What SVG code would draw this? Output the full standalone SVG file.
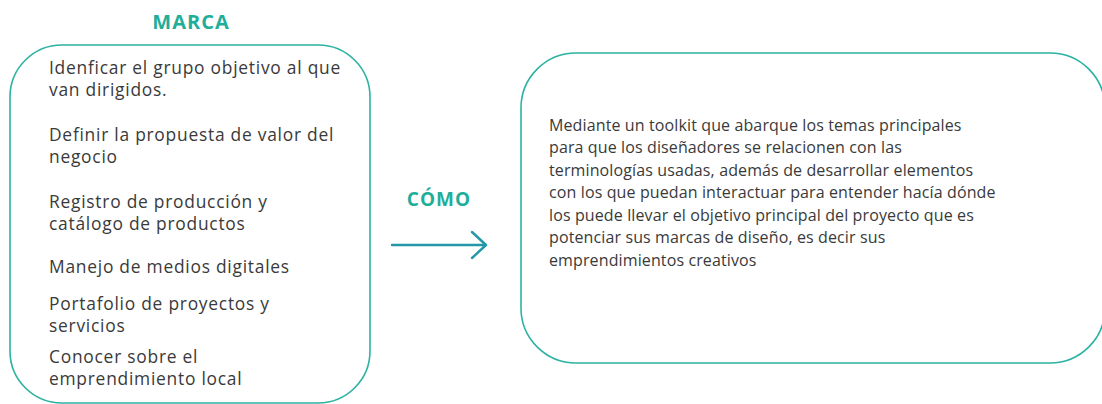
<svg xmlns="http://www.w3.org/2000/svg" width="1102" height="404" viewBox="0 0 1102 404">
<style>
.box{fill:#fff;stroke:#2cb2a2;stroke-width:1.6}
.body{font-family:"Open Sans","Liberation Sans",sans-serif;fill:#3a3a3a}
.left{font-size:17.4px;letter-spacing:0.75px}
.right{font-size:16px;letter-spacing:0.12px}
.title{font-family:"Open Sans","Liberation Sans",sans-serif;font-weight:bold;fill:#1fae9a;text-anchor:middle;letter-spacing:1px}
.conn{fill:none;stroke:#2398a6;stroke-width:2.4;stroke-linecap:round;stroke-linejoin:round}
</style>
<rect width="1102" height="404" fill="#fff"/>
<g id="marca">
<text class="title" x="191" y="29" font-size="20">MARCA</text>
<rect class="box" x="10" y="45" width="360" height="358" rx="52"/>
<text class="body left" x="49"><tspan x="49" y="74">Idenficar el grupo objetivo al que</tspan><tspan x="49" y="96">van dirigidos.</tspan><tspan x="49" y="141">Definir la propuesta de valor del</tspan><tspan x="49" y="163">negocio</tspan><tspan x="49" y="208">Registro de producción y</tspan><tspan x="49" y="230">catálogo de productos</tspan><tspan x="49" y="273">Manejo de medios digitales</tspan><tspan x="49" y="310">Portafolio de proyectos y</tspan><tspan x="49" y="332">servicios</tspan><tspan x="49" y="363">Conocer sobre el</tspan><tspan x="49" y="385">emprendimiento local</tspan></text>
</g>
<g id="connectors">
<text class="title" x="439" y="206" font-size="19">CÓMO</text>
<path class="conn" d="M392 245 H486 M472 232 L486 245 L472 258"/>
</g>
<g id="como">
<rect class="box" x="521" y="53" width="584" height="310" rx="55"/>
<text class="body right" x="549"><tspan x="549" y="131">Mediante un toolkit que abarque los temas principales</tspan><tspan x="549" y="153">para que los diseñadores se relacionen con las</tspan><tspan x="549" y="176">terminologías usadas, además de desarrollar elementos</tspan><tspan x="549" y="198">con los que puedan interactuar para entender hacía dónde</tspan><tspan x="549" y="221">los puede llevar el objetivo principal del proyecto que es</tspan><tspan x="549" y="243">potenciar sus marcas de diseño, es decir sus</tspan><tspan x="549" y="266">emprendimientos creativos</tspan></text>
</g>
</svg>
